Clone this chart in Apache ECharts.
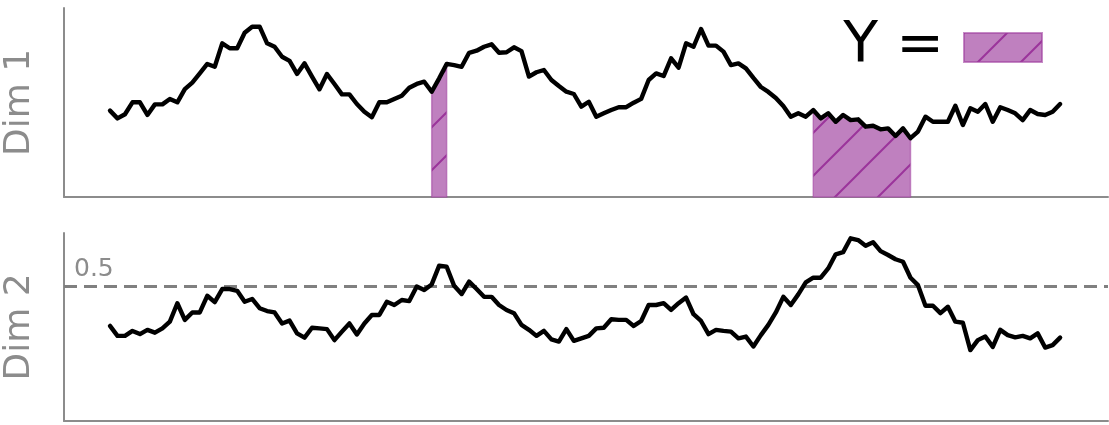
<!DOCTYPE html>
<html>
<head>
<meta charset="utf-8">
<script src="https://cdn.jsdelivr.net/npm/echarts@6/dist/echarts.min.js"></script>
<style>
  html, body { margin: 0; padding: 0; background: #fff; }
  #chart { width: 1109px; height: 425px; }
</style>
</head>
<body>
<div id="chart"></div>
<script>
// values, one per time step
const dim1 = [
  0.457, 0.416, 0.438, 0.501, 0.501, 0.434, 0.490, 0.490, 0.519, 0.501,
  0.571, 0.605, 0.654, 0.704, 0.689, 0.813, 0.787, 0.787, 0.869, 0.901,
  0.901, 0.813, 0.795, 0.742, 0.720, 0.651, 0.707, 0.637, 0.570, 0.651,
  0.598, 0.543, 0.543, 0.492, 0.451, 0.422, 0.501, 0.501, 0.519, 0.536,
  0.578, 0.598, 0.610, 0.557, 0.628, 0.704, 0.698, 0.689, 0.763, 0.774,
  0.795, 0.808, 0.763, 0.766, 0.792, 0.772, 0.637, 0.660, 0.672, 0.619,
  0.587, 0.557, 0.545, 0.478, 0.504, 0.425, 0.443, 0.460, 0.475, 0.475,
  0.499, 0.519, 0.619, 0.654, 0.640, 0.734, 0.684, 0.813, 0.795, 0.889,
  0.801, 0.801, 0.769, 0.698, 0.707, 0.681, 0.630, 0.582, 0.556, 0.524,
  0.481, 0.425, 0.443, 0.425, 0.460, 0.416, 0.443, 0.398, 0.434, 0.407,
  0.411, 0.372, 0.377, 0.358, 0.363, 0.323, 0.363, 0.311, 0.346, 0.425,
  0.398, 0.398, 0.398, 0.483, 0.381, 0.469, 0.451, 0.492, 0.398, 0.475,
  0.460, 0.443, 0.407, 0.460, 0.439, 0.434, 0.451, 0.492
];
const dim2 = [
  0.388, 0.360, 0.360, 0.374, 0.365, 0.377, 0.369, 0.381, 0.400, 0.452,
  0.405, 0.426, 0.426, 0.473, 0.455, 0.492, 0.492, 0.487, 0.456, 0.464,
  0.438, 0.430, 0.426, 0.395, 0.403, 0.367, 0.355, 0.383, 0.381, 0.379,
  0.348, 0.372, 0.395, 0.364, 0.395, 0.419, 0.419, 0.456, 0.447, 0.461,
  0.458, 0.499, 0.489, 0.505, 0.558, 0.555, 0.501, 0.478, 0.513, 0.492,
  0.470, 0.470, 0.447, 0.433, 0.424, 0.391, 0.377, 0.360, 0.374, 0.350,
  0.344, 0.379, 0.346, 0.353, 0.360, 0.381, 0.383, 0.407, 0.405, 0.405,
  0.388, 0.402, 0.447, 0.447, 0.452, 0.433, 0.452, 0.468, 0.421, 0.402,
  0.365, 0.377, 0.374, 0.372, 0.353, 0.358, 0.330, 0.362, 0.391, 0.426,
  0.470, 0.447, 0.477, 0.511, 0.524, 0.524, 0.550, 0.590, 0.596, 0.635,
  0.630, 0.614, 0.624, 0.599, 0.588, 0.576, 0.569, 0.524, 0.503, 0.445,
  0.445, 0.424, 0.442, 0.400, 0.397, 0.320, 0.348, 0.358, 0.329, 0.377,
  0.362, 0.356, 0.360, 0.353, 0.367, 0.327, 0.334, 0.355
];
// time steps where Y = 1 (start, end index)
const yRegions = [[43, 45], [94, 107]];
const threshold = 0.5;
const dimNames = ['Dim 1', 'Dim 2'];
const legendLabel = 'Y =';

const FONT = 'DejaVu Sans';
const GREY = '#8c8c8c';

// hatch pattern, like matplotlib's '/'
function makeHatch() {
  const s = 43;
  const c = document.createElement('canvas');
  c.width = s; c.height = s;
  const g = c.getContext('2d');
  g.fillStyle = 'rgb(191,128,191)';
  g.fillRect(0, 0, s, s);
  g.strokeStyle = 'rgb(155,52,155)';
  g.lineWidth = 2;
  g.beginPath();
  g.moveTo(-2, s + 2); g.lineTo(s + 2, -2);
  g.moveTo(-2, 2); g.lineTo(2, -2);
  g.moveTo(s - 2, s + 2); g.lineTo(s + 2, s - 2);
  g.stroke();
  return c;
}
const hatch = { image: makeHatch(), repeat: 'repeat' };

const chart = echarts.init(document.getElementById('chart'), null, { renderer: 'canvas' });

const axisLine = { show: true, onZero: false, lineStyle: { color: GREY, width: 2 } };

function xAxis(gridIndex) {
  return {
    type: 'value', gridIndex, min: -6.15, max: 133.4,
    axisLine, axisTick: { show: false }, axisLabel: { show: false }, splitLine: { show: false }
  };
}
function yAxis(gridIndex, min, max) {
  return {
    type: 'value', gridIndex, min, max,
    name: dimNames[gridIndex], nameLocation: 'middle', nameGap: 26,
    nameTextStyle: { fontSize: 36, color: GREY, fontFamily: FONT },
    axisLine, axisTick: { show: false }, axisLabel: { show: false }, splitLine: { show: false }
  };
}

chart.setOption({
  animation: false,
  textStyle: { fontFamily: FONT },
  grid: [
    { left: 64, right: 1, top: 8, height: 189, outerBoundsMode: 'none', containLabel: false },
    { left: 64, right: 1, top: 233, height: 188, outerBoundsMode: 'none', containLabel: false }
  ],
  xAxis: [xAxis(0), xAxis(1)],
  yAxis: [yAxis(0, 0, 1), yAxis(1, 0.12, 0.65)],
  legend: {
    right: 61, top: 14,
    align: 'right',
    selectedMode: false,
    itemWidth: 78, itemHeight: 29,
    textStyle: { fontSize: 57, color: '#000', fontFamily: FONT, padding: [0, 15, 0, 0] },
    data: [{
      name: legendLabel, icon: 'rect',
      itemStyle: { color: hatch, borderColor: 'rgba(160,64,160,0.6)', borderWidth: 2 }
    }]
  },
  series: [
    {
      name: legendLabel,
      type: 'custom',
      xAxisIndex: 0, yAxisIndex: 0,
      z: 1,
      data: yRegions,
      itemStyle: { color: 'rgb(191,128,191)' },
      renderItem: (params, api) => {
        const a = api.value(0), b = api.value(1);
        const pts = [];
        for (let i = a; i <= b; i++) pts.push(api.coord([i, dim1[i]]));
        pts.push(api.coord([b, 0]));
        pts.push(api.coord([a, 0]));
        return {
          type: 'polygon',
          shape: { points: pts },
          style: { fill: hatch, stroke: 'rgba(160,64,160,0.55)', lineWidth: 1.5 }
        };
      }
    },
    {
      type: 'line',
      xAxisIndex: 0, yAxisIndex: 0,
      z: 3,
      data: dim1.map((v, i) => [i, v]),
      showSymbol: false,
      lineStyle: { color: '#000', width: 4.4, join: 'round', cap: 'round' }
    },
    {
      type: 'line',
      xAxisIndex: 1, yAxisIndex: 1,
      z: 3,
      data: dim2.map((v, i) => [i, v]),
      showSymbol: false,
      lineStyle: { color: '#000', width: 4.4, join: 'round', cap: 'round' },
      markLine: {
        silent: true,
        symbol: 'none',
        z: 2,
        lineStyle: { color: '#808080', width: 3, type: [13, 7] },
        label: {
          show: true, position: 'insideStartTop', formatter: String(threshold),
          fontSize: 25, color: GREY, fontFamily: FONT, distance: [10, 4]
        },
        data: [{ yAxis: threshold }]
      }
    }
  ]
});
</script>
</body>
</html>
